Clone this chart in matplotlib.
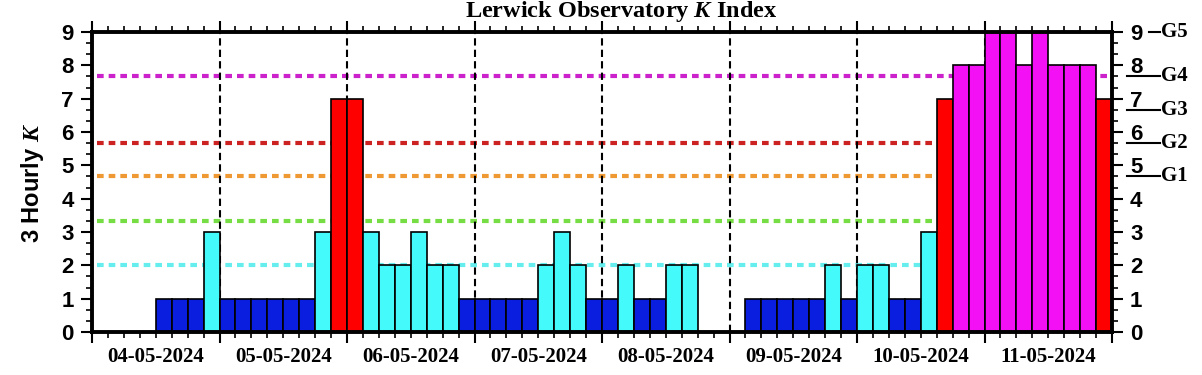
import numpy as np
import matplotlib
matplotlib.use('Agg')
from matplotlib import pyplot as plt
from matplotlib import transforms

plt.rcParams['font.family'] = 'Liberation Sans'
plt.rcParams['font.weight'] = 'bold'
plt.rcParams['mathtext.fontset'] = 'custom'
plt.rcParams['mathtext.it'] = 'Liberation Serif:italic:bold'

# 3-hourly K values, 8 per day
days = ['04-05-2024', '05-05-2024', '06-05-2024', '07-05-2024',
        '08-05-2024', '09-05-2024', '10-05-2024', '11-05-2024']
k_values = [0, 0, 0, 0, 1, 1, 1, 3,
            1, 1, 1, 1, 1, 1, 3, 7,
            7, 3, 2, 2, 3, 2, 2, 1,
            1, 1, 1, 1, 2, 3, 2, 1,
            1, 2, 1, 1, 2, 2, 0, 0,
            0, 1, 1, 1, 1, 1, 2, 1,
            2, 2, 1, 1, 3, 7, 8, 8,
            9, 9, 8, 9, 8, 8, 8, 7]

# storm threshold lines
thresh_levels = [2.0, 3.33, 4.67, 5.67, 7.67]
thresh_colors = ['#66eeee', '#77dd44', '#ee9933', '#cc2222', '#cc22cc']

# G scale marks on right side
g_levels = [4.67, 5.67, 6.67, 7.67, 9.0]
g_labels = ['G1', 'G2', 'G3', 'G4', 'G5']


def bar_colour(k):
    if k <= 1:
        return '#0a1ee0'
    if k <= 3:
        return '#44fafa'
    if k <= 7:
        return '#ff0000'
    return '#f410f4'


fig = plt.figure(figsize=(12.02, 3.75), dpi=100)
ax = fig.add_axes([92 / 1202, 1 - 332 / 375, 1020 / 1202, 300 / 375])

n = len(k_values)
x = np.arange(n) / 8.0
ax.bar(x, k_values, width=1 / 8, align='edge', color=[bar_colour(k) for k in k_values],
       edgecolor='black', linewidth=1.2, zorder=3)

for lvl, col in zip(thresh_levels, thresh_colors):
    ax.axhline(lvl, xmin=0.005, xmax=1, color=col, lw=3, dashes=(1.6, 1.2), zorder=1)

for d in range(1, len(days)):
    ax.axvline(d, color='black', lw=1.5, dashes=(3.5, 2), zorder=2)

ax.set_xlim(0, len(days))
ax.set_ylim(0, 9)

# x ticks: days major, 3-hour minor with date labels at midday
ax.set_xticks(np.arange(len(days) + 1))
ax.set_xticklabels([])
minor_pos = [j / 8 for j in range(len(days) * 8 + 1) if j % 8 != 0]
minor_lab = [days[int(p)] if abs(p - int(p) - 0.5) < 1e-6 else '' for p in minor_pos]
ax.set_xticks(minor_pos, minor_lab, minor=True,
              fontfamily='Liberation Serif', fontweight='bold', fontsize=15)

ax.set_yticks(np.arange(0, 10))
ax.set_yticks(np.arange(0, 9.01, 1 / 3), minor=True)

ax.tick_params(axis='x', which='major', direction='out', length=8, width=1.5,
               top=True, bottom=True)
ax.tick_params(axis='x', which='minor', direction='out', length=4, width=1.2,
               top=True, bottom=True, pad=7)
ax.tick_params(axis='y', which='major', direction='out', length=8, width=1.5,
               left=True, right=True, labelright=True, labelsize=16, pad=5)
ax.tick_params(axis='y', which='minor', direction='out', length=4, width=1.2,
               left=True, right=True)

for sp in ax.spines.values():
    sp.set_linewidth(2.8)
    sp.set_zorder(5)

# G scale
trans = transforms.blended_transform_factory(ax.transAxes, ax.transData)
for lvl, lab in zip(g_levels, g_labels):
    x0 = 1.036 if lab == 'G5' else 1.0147
    ax.plot([x0, 1.047], [lvl, lvl], color='black', lw=1.5, transform=trans, clip_on=False)
    ax.text(1.048, lvl, lab, transform=trans, va='center', ha='left',
            fontfamily='Liberation Serif', fontweight='bold', fontsize=15)

fig.text(33 / 1202, 1 - 183 / 375, r'3 Hourly $\mathit{K}$', rotation=90, va='center', ha='center',
         fontfamily='Liberation Sans', fontweight='bold', fontsize=17)
fig.text(621 / 1202, 1 - 11 / 375, r'Lerwick Observatory $\mathit{K}$ Index', va='center', ha='center',
         fontfamily='Liberation Serif', fontweight='bold', fontsize=17.5)

fig.savefig('out.png', dpi=100)
